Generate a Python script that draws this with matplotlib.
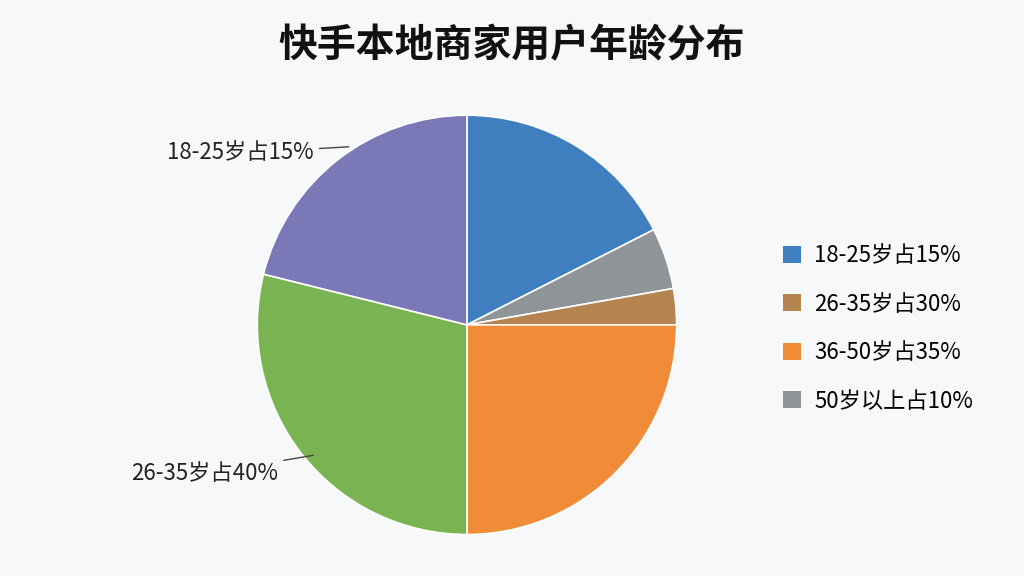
import matplotlib.pyplot as plt
from matplotlib.patches import Patch

plt.rcParams['font.family'] = ['Noto Sans CJK SC', 'DejaVu Sans']

# slice sizes (degrees), clockwise from top
slice_sizes = [63, 17, 10, 90, 104, 76]
slice_colors = ['#3f7fc0', '#8e9498', '#b5844f', '#f08c38', '#7ab452', '#7b78b8']

legend_labels = ['18-25岁占15%', '26-35岁占30%', '36-50岁占35%', '50岁以上占10%']
legend_colors = ['#3f7fc0', '#b5844f', '#f08c38', '#8e9498']

fig = plt.figure(figsize=(10.24, 5.76), dpi=100)
fig.patch.set_facecolor('#f6f8fa')
ax = fig.add_axes([0.2, -0.019, 0.512, 0.91])
ax.pie(slice_sizes, colors=slice_colors, startangle=90, counterclock=False,
       wedgeprops=dict(edgecolor='white', linewidth=1.2))
ax.set_aspect('equal')

fig.text(0.5, 0.92, '快手本地商家用户年龄分布', ha='center', va='center',
         fontsize=28, fontweight='bold', color='#111111')

ax.annotate('18-25岁占15%', xy=(-0.55, 0.85), xytext=(-0.73, 0.82),
            fontsize=16, ha='right', va='center', color='#222222',
            arrowprops=dict(arrowstyle='-', color='#444444', lw=1))
ax.annotate('26-35岁占40%', xy=(-0.72, -0.62), xytext=(-0.9, -0.71),
            fontsize=16, ha='right', va='center', color='#222222',
            arrowprops=dict(arrowstyle='-', color='#444444', lw=1))

handles = [Patch(facecolor=c) for c in legend_colors]
fig.legend(handles, legend_labels, loc='center left', bbox_to_anchor=(0.745, 0.43),
           frameon=False, fontsize=16, handlelength=0.8, handleheight=0.8,
           labelspacing=1.15, handletextpad=0.6)

fig.savefig('out.png', dpi=100, facecolor=fig.get_facecolor())
